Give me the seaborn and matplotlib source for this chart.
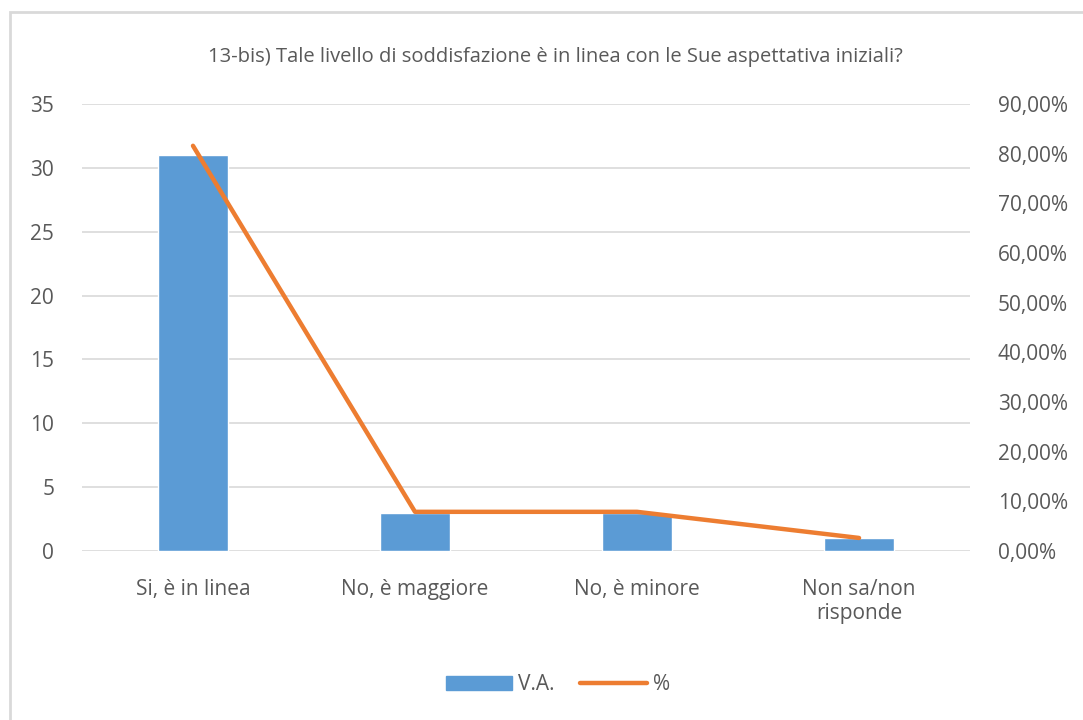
import numpy as np
import pandas as pd
import seaborn as sns
import matplotlib.pyplot as plt
from matplotlib.patches import Rectangle
from matplotlib.lines import Line2D
from matplotlib.ticker import FuncFormatter

categories = ["Si, è in linea", "No, è maggiore", "No, è minore", "Non sa/non\nrisponde"]
va = [31, 3, 3, 1]
pct = [81.58, 7.89, 7.89, 2.63]

blue = "#5b9bd5"
orange = "#ed7d31"
grey = "#595959"

sns.set_theme(style="white")
plt.rcParams["font.family"] = ["Open Sans", "DejaVu Sans"]

df = pd.DataFrame({"cat": categories, "V.A.": va, "%": pct})

fig = plt.figure(figsize=(10.83, 7.2), dpi=100)
ax = fig.add_axes([0.0757, 0.2347, 0.82, 0.6209])

sns.barplot(data=df, x="cat", y="V.A.", color=blue, width=0.315,
            saturation=1, ax=ax, zorder=3)
ax.set_ylim(0, 35)
ax.set_yticks(range(0, 36, 5))
ax.set_xlim(-0.5, 3.5)
ax.grid(axis="y", color="#d9d9d9", lw=1.2, zorder=0)
ax.set_xlabel("")
ax.set_ylabel("")
sns.despine(ax=ax, left=True, bottom=True)
ax.tick_params(axis="both", length=0, labelsize=15, colors=grey)
ax.tick_params(axis="y", pad=20)
ax.tick_params(axis="x", pad=20)

ax2 = ax.twinx()
sns.pointplot(data=df, x="cat", y="%", color=orange, markers="", linestyles="-",
              lw=3.2, ax=ax2)
ax2.set_ylim(0, 90)
ax2.set_yticks(range(0, 91, 10))
ax2.yaxis.set_major_formatter(FuncFormatter(lambda v, p: f"{v:.2f}%".replace(".", ",")))
ax2.set_ylabel("")
ax2.set_xlabel("")
ax2.set_xlim(-0.5, 3.5)
sns.despine(ax=ax2, left=True, bottom=True, right=True)
ax2.tick_params(axis="y", length=0, labelsize=15, colors=grey, pad=20)
for lab in ax.get_xticklabels():
    lab.set_color(grey)

fig.text(0.513, 0.921, "13-bis) Tale livello di soddisfazione è in linea con le Sue aspettativa iniziali?",
         ha="center", va="center", fontsize=14.5, color=grey)

handles = [Rectangle((0, 0), 1, 1, color=blue),
           Line2D([0], [0], color=orange, lw=3.2, solid_capstyle="round")]
fig.legend(handles, ["V.A.", "%"], loc="center", bbox_to_anchor=(0.515, 0.049),
           ncol=2, frameon=False, fontsize=15, labelcolor=grey,
           handlelength=3.2, handletextpad=0.3, columnspacing=1.2)

fig.patches.append(Rectangle((10 / 1083, -0.05), 1.1, 1 - 12 / 720 + 0.05,
                             transform=fig.transFigure, fill=False,
                             edgecolor="#d9d9d9", lw=2))

fig.savefig("out.png", dpi=100)
